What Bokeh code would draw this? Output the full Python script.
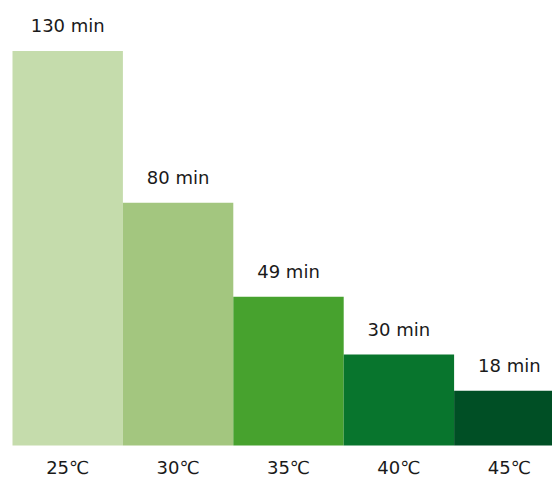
from bokeh.plotting import figure
from bokeh.models import ColumnDataSource, Range1d
from bokeh.core.properties import value
from bokeh.embed import file_html
from bokeh.resources import INLINE

categories = ["25℃", "30℃", "35℃", "40℃", "45℃"]
minutes = [130, 80, 49, 30, 18]
value_labels = ["130 min", "80 min", "49 min", "30 min", "18 min"]
colors = ["#c5dcac", "#a3c67f", "#47a22e", "#08752d", "#004f25"]

W, H = 552, 477
bar_px = 110.4
left_px = 12
bottom_px = 445
px_per_min = 3.035

x_idx = [i + 0.5 for i in range(len(categories))]
src = ColumnDataSource(dict(x=x_idx, top=minutes, cat=categories, lab=value_labels, color=colors))

p = figure(width=W, height=H, output_backend="svg", toolbar_location=None,
           x_range=Range1d(-left_px / bar_px, (W - left_px) / bar_px),
           y_range=Range1d(-(H - bottom_px) / px_per_min, bottom_px / px_per_min),
           min_border=0, outline_line_color=None)
p.axis.visible = False
p.grid.visible = False
p.background_fill_color = "white"
p.border_fill_color = "white"

p.vbar(x="x", top="top", bottom=0, width=1.0, color="color", line_color=None, source=src)
p.text(x="x", y="top", text="lab", source=src, text_align="center", text_baseline="middle",
       y_offset=-25, text_font=value("DejaVu Sans"), text_font_size="18px", text_color="#1a1a1a")
p.text(x="x", y=0, text="cat", source=src, text_align="center", text_baseline="middle",
       y_offset=22, text_font=value("DejaVu Sans"), text_font_size="18px", text_color="#1a1a1a")

open("out.html", "w").write(file_html(p, INLINE))
